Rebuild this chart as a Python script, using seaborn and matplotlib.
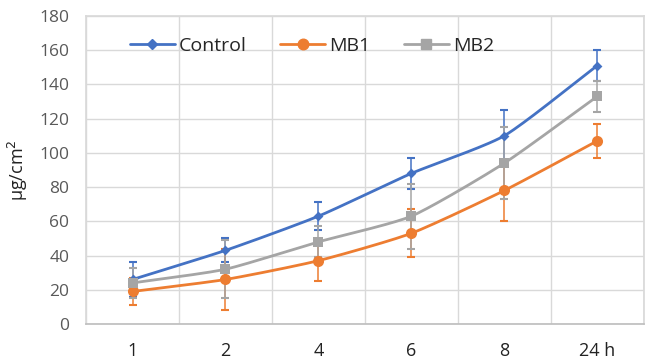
import numpy as np
import pandas as pd
import matplotlib
matplotlib.use("Agg")
import matplotlib.pyplot as plt
import seaborn as sns
from matplotlib.lines import Line2D

categories = ["1", "2", "4", "6", "8", "24 h"]
control = [26, 43, 63, 88, 110, 151]
control_err = [10, 7, 8, 9, 15, 9]
mb1 = [19, 26, 37, 53, 78, 107]
mb1_err = [8, 18, 12, 14, 18, 10]
mb2 = [24, 32, 48, 63, 94, 133]
mb2_err = [9, 17, 9, 19, 21, 9]

series = ["Control", "MB1", "MB2"]
colors = {"Control": "#4472C4", "MB1": "#ED7D31", "MB2": "#A5A5A5"}
markers = {"Control": "D", "MB1": "o", "MB2": "s"}
msizes = {"Control": 5, "MB1": 8, "MB2": 7.5}

rows = []
for name, vals, errs in [("Control", control, control_err), ("MB1", mb1, mb1_err), ("MB2", mb2, mb2_err)]:
    for i, (c, v, e) in enumerate(zip(categories, vals, errs)):
        rows.append({"time": c, "pos": i, "series": name, "value": v, "err": e})
df = pd.DataFrame(rows)

sns.set_theme(style="white")
plt.rcParams["font.family"] = ["Open Sans", "DejaVu Sans"]

fig = plt.figure(figsize=(6.47, 3.62), dpi=100)
ax = fig.add_axes([0.133, 0.105, 0.862, 0.851])


def smooth(x, y, n=30):
    # Catmull-Rom style smoothing for display (Excel-like smoothed line)
    x = np.asarray(x, float); y = np.asarray(y, float)
    px = np.concatenate([[2 * x[0] - x[1]], x, [2 * x[-1] - x[-2]]])
    py = np.concatenate([[2 * y[0] - y[1]], y, [2 * y[-1] - y[-2]]])
    xs, ys = [], []
    for i in range(1, len(px) - 2):
        t = np.linspace(0, 1, n)
        for arr, out in ((px, xs), (py, ys)):
            p0, p1, p2, p3 = arr[i - 1], arr[i], arr[i + 1], arr[i + 2]
            m1 = (p2 - p0) / 2 * 0.6
            m2 = (p3 - p1) / 2 * 0.6
            h00 = 2 * t**3 - 3 * t**2 + 1
            h10 = t**3 - 2 * t**2 + t
            h01 = -2 * t**3 + 3 * t**2
            h11 = t**3 - t**2
            out.extend(h00 * p1 + h10 * m1 + h01 * p2 + h11 * m2)
    return np.array(xs), np.array(ys)


for name in series:
    d = df[df.series == name]
    ax.errorbar(d["pos"], d["value"], yerr=d["err"], fmt="none", ecolor=colors[name],
                elinewidth=1.1, capsize=3, capthick=1.5, zorder=2)

for name in series:
    d = df[df.series == name]
    sx, sy = smooth(d["pos"].values, d["value"].values)
    ax.plot(sx, sy, color=colors[name], lw=2, zorder=3)

for name in series:
    d = df[df.series == name]
    sns.scatterplot(data=d, x="pos", y="value", ax=ax, color=colors[name], marker=markers[name],
                    s=msizes[name] ** 2, edgecolor=colors[name], linewidth=0, zorder=4, legend=False)

ax.set_xlim(-0.5, 5.5)
ax.set_ylim(0, 180)
ax.set_yticks(np.arange(0, 181, 20))
ax.set_xticks(np.arange(-0.5, 5.6, 1), minor=False)
ax.set_xticklabels([])
ax.set_xticks(range(len(categories)), minor=True)
ax.set_xticklabels(categories, minor=True)
ax.tick_params(axis="x", which="both", length=0)
ax.tick_params(axis="x", which="minor", pad=13, labelsize=13, labelcolor="#222222")
ax.tick_params(axis="y", length=0, labelsize=12.5, labelcolor="#595959", pad=12)
ax.grid(True, which="major", color="#D9D9D9", lw=1)
ax.set_axisbelow(True)
for s in ["top", "right", "left"]:
    ax.spines[s].set_visible(True)
    ax.spines[s].set_color("#D9D9D9")
ax.spines["bottom"].set_color("#BFBFBF")
ax.set_xlabel("")
ax.set_ylabel("µg/cm$^2$", fontsize=13, color="#222222", labelpad=7)

handles = [Line2D([0], [0], color=colors[n], lw=2, marker=markers[n], markersize=msizes[n] * 0.95)
           for n in series]
ax.legend(handles, series, loc="upper center", bbox_to_anchor=(0.405, 0.99), ncol=3, frameon=False,
          fontsize=14, handlelength=2.3, columnspacing=1.75, handletextpad=0.2)

fig.savefig("out.png", dpi=100)
